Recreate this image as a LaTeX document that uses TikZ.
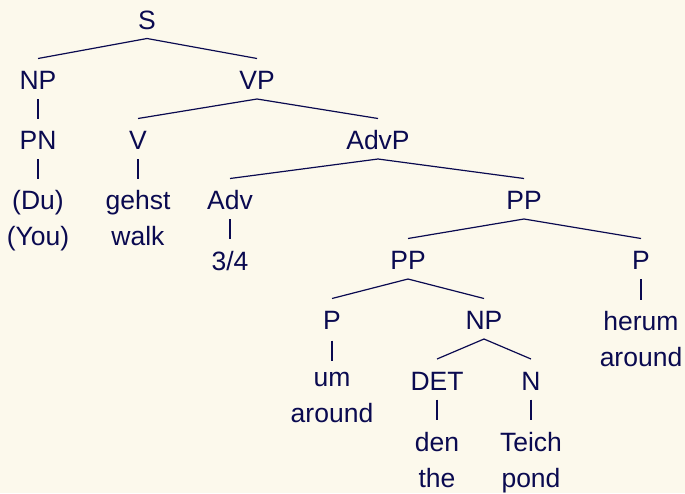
\documentclass[tikz,border=0pt]{standalone}
\usepackage{fontspec}
\setmainfont{Liberation Sans}
\definecolor{bgcol}{RGB}{252,249,236}
\definecolor{inkcol}{RGB}{10,10,80}
\begin{document}
\begin{tikzpicture}[x=1pt,y=-1pt,
  lab/.style={anchor=base,inner sep=0pt,text=inkcol,font=\fontsize{26.5}{36}\selectfont},
  branch/.style={draw=inkcol,line width=1.2pt}]
\fill[bgcol] (0,0) rectangle (685,493);
\useasboundingbox (0,0) rectangle (685,493);
% level baselines: 29.5 + 60 k
\node[lab] (S) at (147,29) {S};
\node[lab] (NP) at (38,89.5) {NP};
\node[lab] (VP) at (257,89.5) {VP};
\node[lab] (PN) at (38,149.5) {PN};
\node[lab] (V) at (138,149.5) {V};
\node[lab] (AdvP) at (378,149.5) {AdvP};
\node[lab] (du) at (38,209.5) {(Du)};
\node[lab] (duEn) at (38,245.5) {(You)};
\node[lab] (gehst) at (138,209.5) {gehst};
\node[lab] (gehstEn) at (138,245.5) {walk};
\node[lab] (Adv) at (230,209.5) {Adv};
\node[lab] (PPa) at (524,209.5) {PP};
\node[lab] (frac) at (230,270) {3/4};
\node[lab] (PPb) at (408,269.5) {PP};
\node[lab] (Pa) at (641,269.5) {P};
\node[lab] (Pb) at (332,329.5) {P};
\node[lab] (NPb) at (484,329.5) {NP};
\node[lab] (herum) at (641,330.5) {herum};
\node[lab] (herumEn) at (641,366.5) {around};
\node[lab] (um) at (332,386.5) {um};
\node[lab] (umEn) at (332,422.5) {around};
\node[lab] (DET) at (437,390) {DET};
\node[lab] (N) at (531,390) {N};
\node[lab] (den) at (437,451) {den};
\node[lab] (denEn) at (437,487) {the};
\node[lab] (Teich) at (531,451) {Teich};
\node[lab] (TeichEn) at (531,487) {pond};
\foreach \p/\c in {S/NP,S/VP,NP/PN,VP/V,VP/AdvP,PN/du,V/gehst,AdvP/Adv,AdvP/PPa,
  Adv/frac,PPa/PPb,PPa/Pa,PPb/Pb,PPb/NPb,Pa/herum,NPb/DET,NPb/N,DET/den,N/Teich}
  \draw[branch] ([yshift=-9.5pt]\p.base) -- ([yshift=31pt]\c.base);
\draw[branch] ([yshift=-11pt]Pb.base) -- ([yshift=26pt]um.base);
\end{tikzpicture}
\end{document}
